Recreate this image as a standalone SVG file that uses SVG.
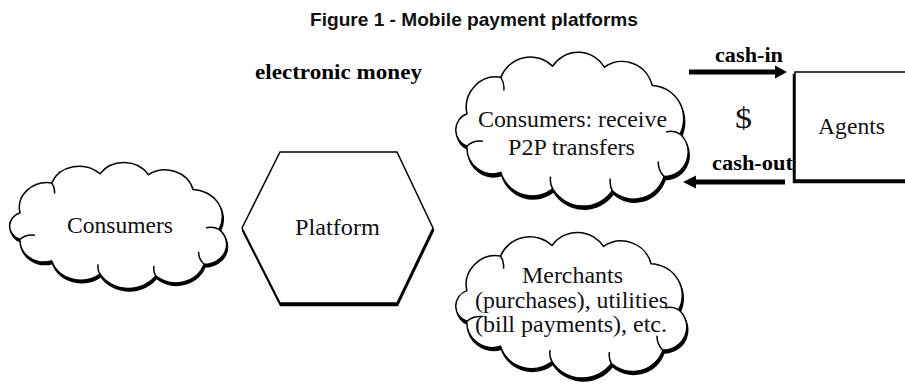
<svg xmlns="http://www.w3.org/2000/svg" width="905" height="384" viewBox="0 0 905 384">
<style>
.t{font-family:"Liberation Serif","Times New Roman",serif;font-size:23.5px;fill:#111;}
.tb{font-family:"Liberation Serif","Times New Roman",serif;font-weight:bold;fill:#000;}
.title{font-family:"Liberation Sans",Arial,sans-serif;font-weight:bold;font-size:18.5px;fill:#111;}
.sh{fill:#000;stroke:#000;stroke-width:1.5;}
.main{fill:#fff;stroke:#000;stroke-width:1.5;}
.inner{fill:none;stroke:#000;stroke-width:1.5;}
.shaft{stroke:#000;stroke-width:5;fill:none;}
</style>
<defs>
<path id="cloud" vector-effect="non-scaling-stroke" d="M14,60 A30,30 0 0,1 48,24 A32,32 0 0,1 100,13 A31,31 0 0,1 152,14 A31,31 0 0,1 200,32 A33,33 0 0,1 228,80 A24,24 0 0,1 212,122 A32,32 0 0,1 160,136 A36,36 0 0,1 100,134 A33,33 0 0,1 48,118 A26,26 0 0,1 14,92 A17,17 0 0,1 14,60 Z"/>
<path id="cloudIn" vector-effect="non-scaling-stroke" d="M14,92 Q20,86 30,87 M48,24 Q52,30 51,37 M228,80 Q222,76 214,78 M212,122 Q206,116 206,107 M160,136 Q157,131 158,124 M100,134 Q97,129 98,122"/>
</defs>
<text class="title" x="310" y="26" textLength="328" lengthAdjust="spacingAndGlyphs">Figure 1 - Mobile payment platforms</text>
<text class="tb" x="255" y="79" font-size="21" textLength="167" lengthAdjust="spacingAndGlyphs">electronic money</text>
<g id="consumers">
<g transform="translate(7,163) scale(0.93,0.83)">
<use href="#cloud" class="sh" transform="translate(1,3)"/>
<use href="#cloud" class="main"/>
<use href="#cloudIn" class="inner"/>
</g>
<text class="t" x="67" y="233" textLength="106" lengthAdjust="spacingAndGlyphs">Consumers</text>
</g>
<g id="platform">
<polygon class="sh" points="242,228 280,152 397,152 433,228 397,303 280,303" transform="translate(0.5,2.5)"/>
<polygon class="main" points="242,228 280,152 397,152 433,228 397,303 280,303"/>
<text class="t" x="295" y="235" textLength="85" lengthAdjust="spacingAndGlyphs">Platform</text>
</g>
<g id="p2p">
<g transform="translate(453,53) scale(0.996,1.013)">
<use href="#cloud" class="sh" transform="translate(1,3)"/>
<use href="#cloud" class="main"/>
<use href="#cloudIn" class="inner"/>
</g>
<text class="t" x="478" y="127" textLength="189" lengthAdjust="spacingAndGlyphs">Consumers: receive</text>
<text class="t" x="508" y="155" textLength="127" lengthAdjust="spacingAndGlyphs">P2P transfers</text>
</g>
<g id="merchants">
<g transform="translate(453,233) scale(0.99,0.96)">
<use href="#cloud" class="sh" transform="translate(1,3)"/>
<use href="#cloud" class="main"/>
<use href="#cloudIn" class="inner"/>
</g>
<text class="t" x="522" y="283" textLength="101" lengthAdjust="spacingAndGlyphs">Merchants</text>
<text class="t" x="475" y="308" textLength="193" lengthAdjust="spacingAndGlyphs">(purchases), utilities</text>
<text class="t" x="475" y="332" textLength="192" lengthAdjust="spacingAndGlyphs">(bill payments), etc.</text>
</g>
<g id="agents">
<rect class="sh" x="793.5" y="74.5" width="130" height="108"/>
<rect class="main" x="795" y="72" width="130" height="108"/>
<text class="t" x="818" y="134" textLength="67" lengthAdjust="spacingAndGlyphs">Agents</text>
</g>
<g id="connectors">
<line class="shaft" x1="689" y1="72" x2="777" y2="72"/>
<polygon points="775,65.5 787,72 775,78.5" fill="#000"/>
<line class="shaft" x1="785" y1="182" x2="694" y2="182"/>
<polygon points="696,175.5 683,182 696,188.5" fill="#000"/>
<text class="tb" x="715" y="62" font-size="20.5" textLength="68" lengthAdjust="spacingAndGlyphs">cash-in</text>
<text class="tb" x="712" y="170" font-size="20.5" textLength="81" lengthAdjust="spacingAndGlyphs">cash-out</text>
<text class="t" x="735" y="128" style="font-size:29px" textLength="17" lengthAdjust="spacingAndGlyphs">$</text>
</g>
</svg>
